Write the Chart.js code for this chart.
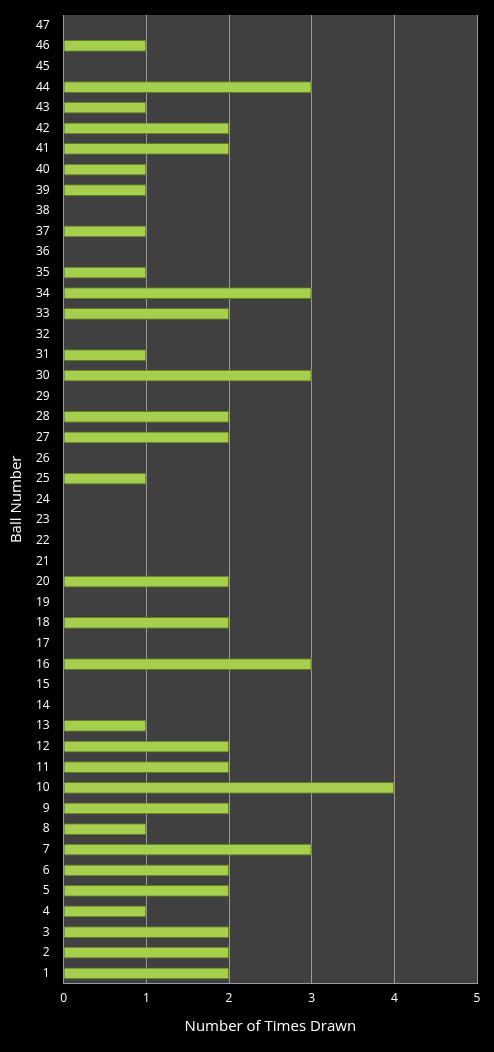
<!DOCTYPE html>
<html>
<head>
<meta charset="utf-8">
<script src="https://cdn.jsdelivr.net/npm/chart.js@4"></script>
<style>
  html, body { margin:0; padding:0; background:#000; }
  #wrap { width:494px; height:1052px; }
</style>
</head>
<body>
<div id="wrap"><canvas id="c"></canvas></div>
<script>
const balls = Array.from({length:47}, (_, i) => String(i + 1));
// times drawn, ball 1..47
const drawn = [2,2,2,1,2,2,3,1,2,4, 2,2,1,0,0,3,0,2,0,2, 0,0,0,0,1,0,2,2,0,3, 1,0,2,3,1,0,1,0,1,1, 2,2,1,3,0,1,0];
const xTicks = [0,1,2,3,4,5];

const plotBg = {
  id: "plotBg",
  beforeDraw(chart){
    const {ctx, chartArea:a} = chart;
    ctx.save();
    ctx.fillStyle = "#404040";
    ctx.fillRect(a.left, a.top, a.right - a.left, a.bottom - a.top);
    ctx.restore();
  }
};

function barFill(ctx){
  const el = ctx.element;
  const c = ctx.chart.ctx;
  if (!el || el.base === undefined) return "#a5cf4c";
  const h = el.height || 12;
  const g = c.createLinearGradient(0, el.y - h/2, 0, el.y + h/2);
  g.addColorStop(0, "#e4f5b4");
  g.addColorStop(0.45, "#a8d24e");
  g.addColorStop(1, "#6d8f25");
  return g;
}

new Chart(document.getElementById("c"), {
  type: "bar",
  data: { labels: balls, datasets: [{
    data: drawn,
    backgroundColor: barFill,
    borderColor: "#5f7d1e",
    borderWidth: 1,
    barPercentage: 0.6,
    categoryPercentage: 0.95
  }]},
  options: {
    indexAxis: "y",
    responsive: true,
    maintainAspectRatio: false,
    animation: false,
    layout: { padding: { top: 15, right: 17, bottom: 12, left: 4 } },
    plugins: { legend: { display:false }, tooltip: { enabled:false } },
    scales: {
      x: {
        min: 0, max: 5,
        afterBuildTicks: s => { s.ticks = xTicks.map(v => ({value:v})); },
        grid: { color: "#9a9a9a", drawTicks: false },
        border: { color: "#9a9a9a" },
        ticks: { color: "#fff", font: { family: "Open Sans", size: 12 }, padding: 8 },
        title: { display: true, text: "Number of Times Drawn", color: "#fff",
                 font: { family: "Open Sans", size: 15 } }
      },
      y: {
        reverse: true,
        grid: { display: false },
        border: { color: "#9a9a9a" },
        ticks: { color: "#fff", font: { family: "Open Sans", size: 12 }, autoSkip: false, padding: 6 },
        title: { display: true, text: "Ball Number", color: "#fff",
                 font: { family: "Open Sans", size: 15 } }
      }
    }
  },
  plugins: [plotBg]
});
</script>
</body>
</html>
